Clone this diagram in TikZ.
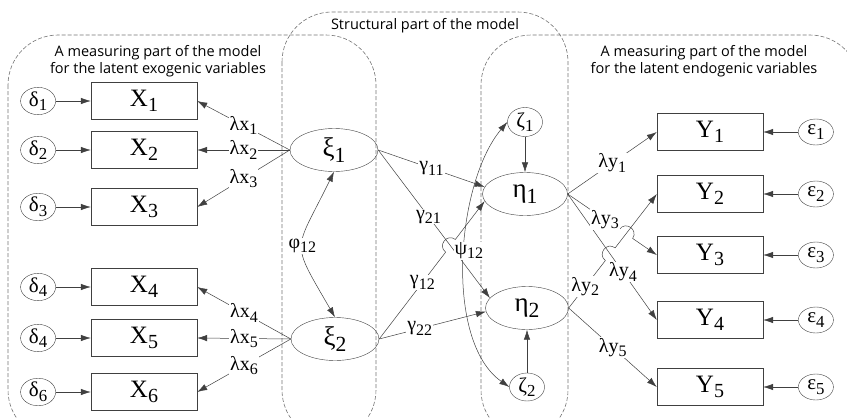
\documentclass[tikz,border=0pt]{standalone}
\usepackage{fontspec}
\usepackage{graphicx}
\setmainfont{Liberation Serif}
\setsansfont{Open Sans}
\usetikzlibrary{arrows.meta, positioning, shapes.geometric, calc}
\newcommand{\ix}[1]{\raisebox{-0.22em}{\scalebox{0.8}{#1}}}

\begin{document}
\begin{tikzpicture}[
    x=1pt, y=1pt,
    node distance=35pt,
    obs/.style={draw=black!75, minimum width=106pt, minimum height=37pt, inner sep=0pt, font=\fontsize{25}{27}\selectfont},
    err/.style={draw=black!75, ellipse, minimum width=35pt, minimum height=26pt, inner sep=0pt, font=\fontsize{21}{22}\selectfont},
    lat/.style={draw=black!75, ellipse, minimum width=88pt, minimum height=43pt, inner sep=0pt, font=\fontsize{27}{28}\selectfont},
    lab/.style={fill=white, inner sep=1pt, font=\fontsize{20}{21}\selectfont},
    heading/.style={align=center, font=\sffamily\fontsize{14.5}{17.5}\selectfont},
    region/.style={draw=black!55, line width=0.6pt, dash pattern=on 4pt off 2pt, rounded corners=50pt},
    link/.style={draw=black!75, line width=0.5pt},
    arrow/.style={link, -{Latex[length=10pt, width=6.5pt]}},
    both/.style={link, {Latex[length=10pt, width=6.5pt]}-{Latex[length=10pt, width=6.5pt]}},
    hop/.style={bend left=90, looseness=1.7}
]
\useasboundingbox (0,0) rectangle (847,-418);
\clip (0,0) rectangle (847,-418);

% dashed parts of the model
\draw[region] (8,-35) rectangle (376,-440);
\draw[region] (282,-12) rectangle (568,-440);
\draw[region] (481,-35) rectangle (860,-440);

\node[heading] (ttl) at (425,-26) {Structural part of the model};
\node[heading] (ttlx) at (158,-61) {A measuring part of the model\\for the latent exogenic variables};
\node[heading] (ttly) at (704,-61) {A measuring part of the model\\for the latent endogenic variables};

% observed x and their errors
\node[obs] (X1) at (144,-101) {X\ix{1}};
\node[obs] (X2) at (144,-150) {X\ix{2}};
\node[obs] (X3) at (144,-207) {X\ix{3}};
\node[obs] (X4) at (144,-287) {X\ix{4}};
\node[obs] (X5) at (144,-338) {X\ix{5}};
\node[obs] (X6) at (144,-392) {X\ix{6}};
\node[err, left=of X1] (d1) {δ\ix{1}};
\node[err, left=of X2] (d2) {δ\ix{2}};
\node[err, left=of X3] (d3) {δ\ix{3}};
\node[err, left=of X4] (d4) {δ\ix{4}};
\node[err, left=of X5] (d5) {δ\ix{4}};
\node[err, left=of X6] (d6) {δ\ix{6}};

% observed y and their errors
\node[obs] (Y1) at (710,-132) {Y\ix{1}};
\node[obs] (Y2) at (710,-194) {Y\ix{2}};
\node[obs] (Y3) at (710,-255) {Y\ix{3}};
\node[obs] (Y4) at (710,-320) {Y\ix{4}};
\node[obs] (Y5) at (710,-387) {Y\ix{5}};
\node[err, right=of Y1] (e1) {ε\ix{1}};
\node[err, right=of Y2] (e2) {ε\ix{2}};
\node[err, right=of Y3] (e3) {ε\ix{3}};
\node[err, right=of Y4] (e4) {ε\ix{4}};
\node[err, right=of Y5] (e5) {ε\ix{5}};

% latent variables
\node[lat] (xi1) at (334,-150) {ξ\ix{1}};
\node[lat] (xi2) at (335,-339) {ξ\ix{2}};
\node[lat, minimum width=85pt] (eta1) at (525,-194) {η\ix{1}};
\node[lat, minimum width=83pt] (eta2) at (527,-308) {η\ix{2}};
\node[err, minimum height=29pt] (z1) at (525,-122) {ζ\ix{1}};
\node[err, minimum height=28pt] (z2) at (527,-387) {ζ\ix{2}};

\foreach \i in {1,...,6} \draw[arrow] (d\i) -- (X\i);
\foreach \i in {1,...,5} \draw[arrow] (e\i) -- (Y\i);
\foreach \i/\s in {1/xi1, 2/xi1, 3/xi1, 4/xi2, 5/xi2, 6/xi2}
    \draw[arrow] (\s.west) -- node[lab]{λx\ix{\i}} (X\i.east);

\draw[arrow] (z1) -- (eta1);
\draw[arrow] (z2) -- (eta2);

% gammas
\draw[arrow] (xi1.east) -- node[lab]{γ\ix{11}} (eta1.170);
\draw[arrow] (xi1.east) -- node[lab, pos=0.45]{γ\ix{21}} (eta2.165);
\draw[arrow] (xi2.east) -- node[lab, pos=0.38]{γ\ix{22}} (eta2.185);
\coordinate (h1) at (intersection of xi2.east--eta1.190 and xi1.east--eta2.165);
\draw[arrow] (xi2.east) -- node[lab, pos=0.65]{γ\ix{12}} ($(h1)!8pt!(xi2.east)$)
    to[hop] ($(h1)!8pt!(eta1.190)$) -- (eta1.190);

% lambdas y
\draw[arrow] (eta1.east) -- node[lab]{λy\ix{1}} (Y1.west);
\draw[arrow] (eta1.east) -- node[lab, pos=0.62]{λy\ix{4}} (Y4.west);
\draw[arrow] (eta2.east) -- node[lab]{λy\ix{5}} (Y5.west);
\coordinate (h3) at (intersection of eta2.east--Y2.west and eta1.east--Y4.west);
\draw[arrow] (eta2.east) -- node[lab, pos=0.45]{λy\ix{2}} ($(h3)!8pt!(eta2.east)$)
    to[hop] ($(h3)!8pt!(Y2.west)$) -- (Y2.west);
\coordinate (h2) at (intersection of eta1.east--Y3.west and eta2.east--Y2.west);
\draw[arrow] (eta1.east) -- node[lab, pos=0.72]{λy\ix{3}} ($(h2)!8pt!(eta1.east)$)
    to[hop] ($(h2)!8pt!(Y3.west)$) -- (Y3.west);

% covariances
\draw[both] (xi1.south) to[out=244, in=120, looseness=1.6] node[lab]{φ\ix{12}} (xi2.north);
\draw[both] (z1.west) to[out=230, in=145, looseness=0.77] node[lab, pos=0.47, xshift=4pt]{ψ\ix{12}} (z2.west);
\end{tikzpicture}
\end{document}
